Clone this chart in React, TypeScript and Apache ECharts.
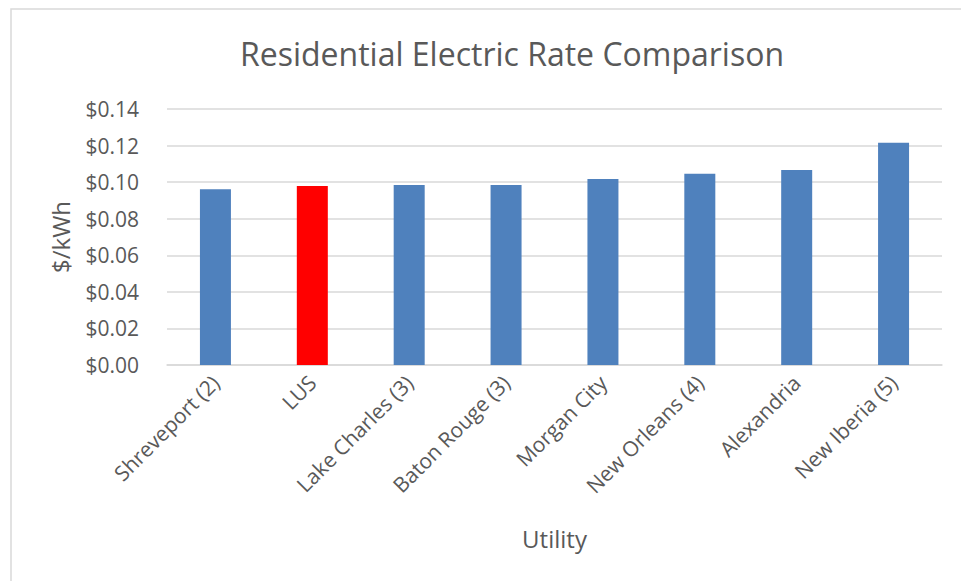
import React, { useEffect, useRef } from "react";
import * as echarts from "echarts";

const utilities = [
  "Shreveport (2)",
  "LUS",
  "Lake Charles (3)",
  "Baton Rouge (3)",
  "Morgan City",
  "New Orleans (4)",
  "Alexandria",
  "New Iberia (5)",
];
const ratesPerKwh = [0.0961, 0.0979, 0.0984, 0.0984, 0.1017, 0.1046, 0.1066, 0.1216];
const highlighted = "LUS";

const BLUE = "#4f81bd";
const RED = "#ff0000";
const TEXT = "#595959";
const GRID = "#d9d9d9";
const FONT = "'Open Sans', sans-serif";

export default function App() {
  const ref = useRef<HTMLDivElement>(null);

  useEffect(() => {
    document.body.style.margin = "0";
    if (!ref.current) return;
    const chart = echarts.init(ref.current, undefined, { renderer: "svg" });
    chart.setOption({
      animation: false,
      backgroundColor: "#ffffff",
      textStyle: { fontFamily: FONT },
      title: {
        text: "Residential Electric Rate Comparison",
        left: 507,
        top: 32,
        textAlign: "center",
        textStyle: { fontFamily: FONT, fontSize: 32, fontWeight: "normal", color: TEXT },
      },
      graphic: [
        {
          type: "rect",
          shape: { x: 11, y: 9, width: 1000, height: 700 },
          style: { fill: "none", stroke: GRID, lineWidth: 1.5 },
          silent: true,
        },
      ],
      grid: { left: 167, right: 19, top: 109, bottom: 216, containLabel: false },
      xAxis: {
        type: "category",
        data: utilities,
        name: "Utility",
        nameLocation: "middle",
        nameGap: 161,
        nameTextStyle: { fontFamily: FONT, fontSize: 24, color: TEXT },
        axisLine: { lineStyle: { color: GRID, width: 1.5 } },
        axisTick: { show: false },
        axisLabel: {
          rotate: 45,
          interval: 0,
          margin: 14,
          fontFamily: FONT,
          fontSize: 21,
          color: TEXT,
        },
      },
      yAxis: {
        type: "value",
        min: 0,
        max: 0.14,
        interval: 0.02,
        name: "$/kWh",
        nameLocation: "middle",
        nameGap: 95,
        nameTextStyle: { fontFamily: FONT, fontSize: 24, color: TEXT },
        axisLine: { show: false },
        axisTick: { show: false },
        splitLine: { lineStyle: { color: GRID, width: 1.5 } },
        axisLabel: {
          margin: 28,
          fontFamily: FONT,
          fontSize: 21,
          color: TEXT,
          formatter: (v: number) => "$" + v.toFixed(2),
        },
      },
      series: [
        {
          type: "bar",
          barWidth: 31,
          data: ratesPerKwh.map((v, i) => ({
            value: v,
            itemStyle: { color: utilities[i] === highlighted ? RED : BLUE },
          })),
        },
      ],
    });
    return () => chart.dispose();
  }, []);

  return <div ref={ref} style={{ width: 961, height: 581 }} />;
}
